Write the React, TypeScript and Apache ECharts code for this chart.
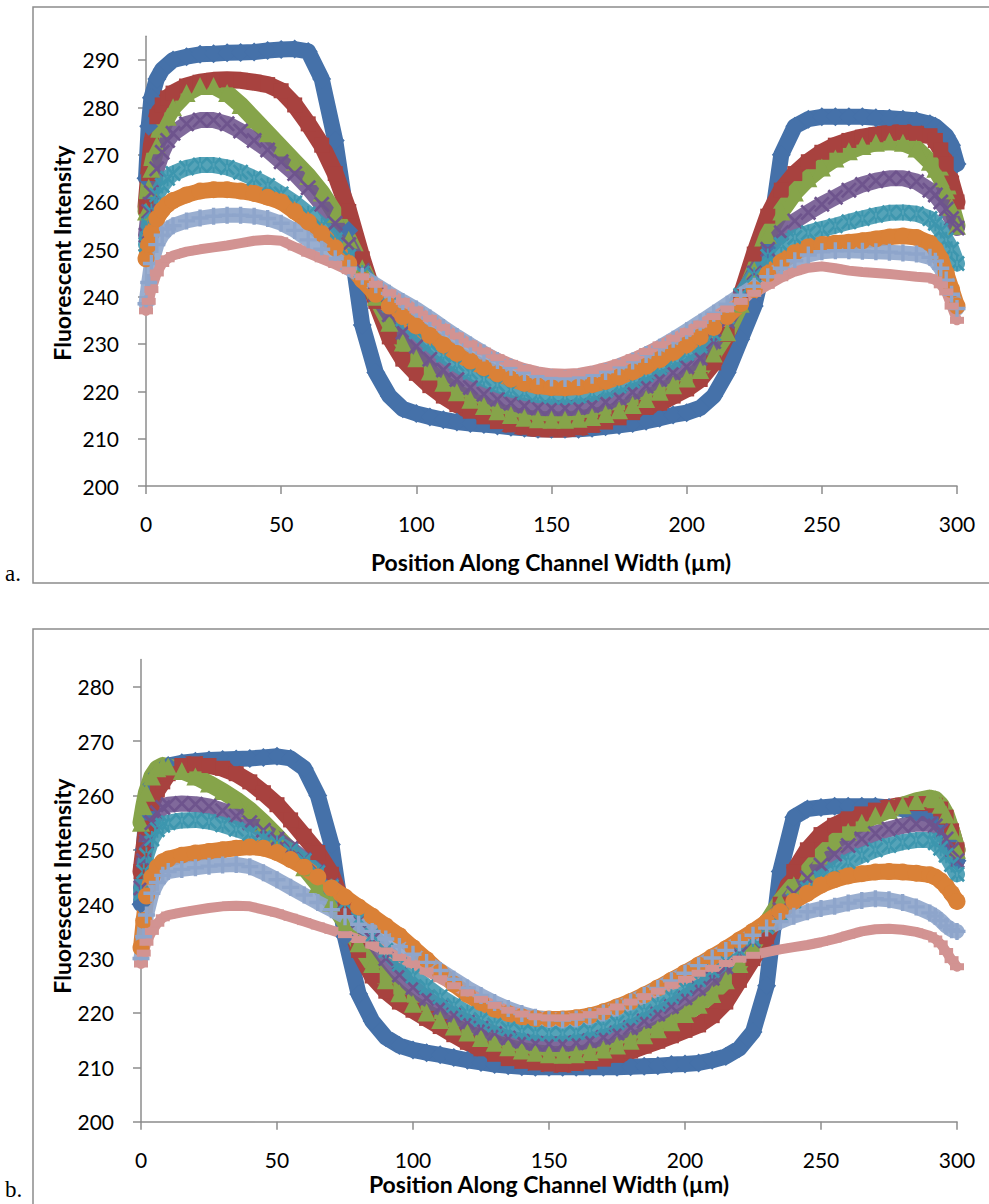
import React, { useEffect, useRef } from "react";
import * as echarts from "echarts";

// Positions along channel width (µm)
const X = [0,1,2,4,6,8,10,15,20,25,30,35,40,45,50,55,60,65,70,75,80,85,90,95,100,105,110,115,120,125,130,135,140,145,150,155,160,165,170,175,180,185,190,195,200,205,210,215,220,225,230,235,240,245,250,255,260,265,270,275,280,285,290,292,294,296,298,300];

const X_TICKS = [0, 50, 100, 150, 200, 250, 300];
const Y_TICKS_A = [200, 210, 220, 230, 240, 250, 260, 270, 280, 290];
const Y_TICKS_B = [200, 210, 220, 230, 240, 250, 260, 270, 280];

// ---- Panel a ----
const A_BLUE = [265,276,282,286,288,289,
290,290.7,291.2,291.3,291.5,291.6,291.7,292,292.2,292.3,
291.8,286,273,254,234,224,219,216.3,215.3,214.6,
214,213.5,213.2,213,212.7,212.4,212.2,212,212,212,
212,212.2,212.5,212.8,213.2,213.7,214.3,215,215.5,216.5,
219,224,231,238,250,270,276,277.5,278,278,
278,278,277.8,277.7,277.5,277.2,276.5,
276,275,274,272,268];
const A_RED = [259,266,272,278,280.5,282,
283,284.5,285.3,285.7,285.8,285.7,285.3,284.8,283.5,280.5,
276.5,272,266,258,248,239,231.5,226.8,223.8,221.2,
219,217.2,215.8,214.6,213.6,212.9,212.4,212.1,212,212,
212.3,212.8,213.5,214.4,215.5,216.6,217.5,219,220.5,222.5,
226,232,240,249,257,262.5,266,268.5,270.5,272,
273,273.7,274.2,274.5,274.7,274.5,274,
273,271,268,264,260];
const A_GREEN = [258,263,267,272,275.5,278,
280,283,284.5,284.5,283,280.5,277.5,274.5,271.5,268.5,
265.5,262,257.5,252,246,240,234.5,230.3,227,224.2,
221.8,219.8,218.2,216.9,215.8,215,214.4,214.1,214,214,
214.2,214.6,215.2,216,217.1,218.4,219.9,221.3,222.7,224.5,
228,232.5,238.5,245.5,253,258,262,265,267.3,269.2,
270.7,271.8,272.5,272.8,272.5,271.3,268.5,
267,265,262.5,259,255];
const A_PURPLE = [253,258,262,267,270.5,273,
274.5,276.5,277.3,277.3,276.5,275,273,271,268.5,266,
263,259.5,255.5,251,245.5,240.5,236.2,232.5,229.5,226.8,
224.5,222.5,220.8,219.4,218.3,217.5,216.9,216.5,216.4,216.4,
216.6,217,217.7,218.6,219.8,221.1,222.5,223.9,225.2,227,
230.5,234.8,239.8,245,250,253.5,256,257.8,259.5,261,
262.5,263.7,264.5,265,265,264.3,262.5,
261.5,260,258.5,256.5,254.5];
const A_CYAN = [251,255,258,261.5,263.5,265,
266,267.2,267.8,267.8,267.3,266.3,265,263.5,261.7,259.8,
257.5,255,252,248.5,245,241.5,238.2,235.3,232.6,230,
227.7,225.7,224,222.6,221.4,220.4,219.7,219.2,218.9,218.8,
219,219.5,220.2,221.1,222.2,223.5,225,226.5,228,229.6,
232.2,235.8,240.3,244.5,248.5,251,252.5,253.5,254.3,255,
255.8,256.5,257.2,257.7,257.8,257.5,256.5,
255.5,254,252,250,247];
const A_ORANGE = [248,251,253.5,256.5,258.3,259.5,
260.3,261.5,262.3,262.6,262.6,262.3,261.8,261,260,258,
255.8,253.3,250.3,247,243.5,240.5,238,235.8,233.8,231.8,
229.8,228,226.4,225,223.7,222.6,221.7,221.1,220.8,220.7,
220.9,221.4,222.1,223,224.1,225.3,226.7,228.2,229.8,231.5,
233.5,235.8,238.5,241.5,244.8,247.3,249.3,250.5,251,251.3,
251.5,251.8,252.2,252.6,252.8,252.5,251.3,
250,248,245,241.5,238];
const A_LIGHTBLUE = [238.5,243,247,251,253,254.3,
255,256,256.6,257,257.2,257.2,257,256.5,255.5,254,
252,250,248,246,244.3,242.5,240.7,239,237.4,235.5,
233.5,231.6,229.8,228.1,226.5,225.1,224,223.2,222.8,222.7,
222.9,223.4,224.2,225.2,226.4,227.8,229.3,231,232.8,234.6,
236.5,238.4,240.3,242.2,244.2,246,247.6,248.8,249.5,249.7,
249.7,249.6,249.5,249.4,249.2,249,248.3,
247.5,246,243.5,240.5,237.5];
const A_PINK = [237,239,241.5,245,247,248,
248.7,249.5,250,250.4,250.8,251.3,251.8,252,251.8,250.5,
249.2,248,246.8,245.5,244.2,242.6,240.8,239,237.2,235.4,
233.5,231.7,230,228.5,227.1,225.9,224.9,224.2,223.8,223.7,
223.9,224.4,225.1,226,227.1,228.4,229.8,231.2,232.6,234.2,
235.8,237.4,239,240.7,242.4,244,245.3,246.1,246.4,246,
245.5,245.2,245,244.8,244.5,244.2,244,
243.5,242.5,241,238,235];

// ---- Panel b ----
const B_BLUE = [240,250,257,262,264,265,
265.5,266,266.3,266.5,266.6,266.7,266.8,267,267.2,266.8,
265,260,251,234,223.5,218.5,215.5,214,213.2,212.7,
212.3,211.8,211.3,210.9,210.5,210.3,210.1,210,210,210,
210,210,210,210,210.1,210.2,210.3,210.5,210.6,210.8,
211.3,212,213.5,216.5,225,246,256,257.5,257.8,258,
258,258,258,257.8,257.5,257,256.5,
255.5,254.5,253,251,248];
const B_RED = [246,250,254,258.5,261,262.5,
264,265.5,265.8,265.5,265,264,262.5,260.5,258.3,255.5,
252.5,249.5,245.5,239,231.5,226.8,224,222,220.5,219,
217.5,216,214.6,213.4,212.4,211.6,211.1,210.8,210.6,210.5,
210.7,211,211.5,212.2,213,213.9,214.8,215.8,216.8,217.8,
219.5,222,226,230,234,240,246,250,252.8,254.5,
255.7,256.6,257.3,257.8,258.2,258.5,258.5,
258.2,257.5,256,253.5,250];
const B_GREEN = [255,258,260.5,263.5,265,265.5,
265.3,264.5,263.5,262.2,260.8,259.2,257.3,255,252.5,249.8,
246.8,243.7,240.3,236.7,232.8,229,226,223.6,221.7,220.1,
218.7,217.5,216.4,215.4,214.5,213.7,213.1,212.7,212.4,212.3,
212.4,212.8,213.3,214,214.9,215.9,217,218.3,219.8,221.5,
223.5,226,229,232.5,236.5,240.5,243.5,246,249,251.5,
253.3,255,256.3,257.3,258.2,259,259.5,
259.3,258.3,256.5,253.5,250];
const B_PURPLE = [243,248,251.5,255,256.8,257.8,
258.3,258.5,258.4,258,257.2,256.2,255,253.6,252,250.2,
248.2,246,243.5,240.5,237,233.5,230,227,224.7,222.7,
221,219.6,218.3,217.2,216.2,215.4,214.8,214.4,214.3,214.3,
214.5,214.9,215.5,216.3,217.3,218.5,219.8,221.2,222.8,224.5,
226.4,228.5,230.8,233.3,236,239,242,244.8,247.2,249.2,
250.8,252,253,253.8,254.4,254.8,254.8,
254.4,253.5,252,250,248];
const B_CYAN = [242,246,249,252,253.7,254.5,
255,255.4,255.5,255.2,254.6,253.8,253,252.2,251.2,249.8,
248,245.8,243.2,240.3,237.3,234.3,231.5,229,226.8,224.8,
223,221.4,220,218.8,217.8,217.1,216.6,216.3,216.2,216.2,
216.4,216.8,217.4,218.2,219.2,220.3,221.6,223,224.5,226.1,
227.8,229.6,231.5,233.6,235.8,238.2,240.6,242.8,244.8,246.4,
247.8,249,250,250.8,251.4,251.8,251.8,
251.3,250.3,249,247.3,245.5];
const B_ORANGE = [232,237,241.5,245,246.8,247.8,
248.3,249,249.4,249.7,250,250.3,250.5,250.3,249.5,248.2,
246.8,245,243,241.3,239.5,237.8,236,234.2,232,229.8,
227.5,225.3,223.4,221.9,220.7,219.9,219.3,219,218.9,218.9,
219.1,219.5,220.2,221.1,222.1,223.3,224.6,226,227.4,228.8,
230.3,231.8,233.4,235,236.7,238.6,240.5,242,243.5,244.5,
245.2,245.6,245.9,246,245.9,245.7,245.4,
245,244.3,243.3,242,240.5];
const B_LIGHTBLUE = [230,234,238,242,244,245.3,
246,246.4,246.7,247,247.2,247.3,246.9,245.8,244.5,243.1,
241.7,240.3,239,237.7,236.3,235,233.6,232.2,230.8,229.3,
227.8,226.2,224.6,223.2,221.9,220.8,219.9,219.2,218.8,218.7,
218.9,219.3,220,220.9,222,223.2,224.5,225.9,227.3,228.7,
230.1,231.5,232.9,234.3,235.6,236.8,237.8,238.6,239.2,239.6,
240.2,240.7,241,240.8,240.3,239.5,238.4,
237.8,237,236,235.3,235];
const B_PINK = [229,231,233,235,236.5,237.5,
238,238.5,238.9,239.3,239.6,239.7,239.6,239,238.4,237.6,
236.8,236,235.2,234.4,233.5,232.5,231.4,230.2,229,227.7,
226.3,225,223.7,222.5,221.4,220.5,219.8,219.3,219.1,219.1,
219.3,219.7,220.3,221.1,222,223,224,225.1,226.2,227.3,
228.2,229.1,229.9,230.6,231.2,231.7,232.1,232.5,233,233.6,
234.3,235,235.4,235.5,235.3,234.9,234.2,
233.6,232.7,231.3,229.8,228.5];

const PLUS = "path://M4,0H6V4H10V6H6V10H4V6H0V4H4Z";
const XMARK = "path://M0,1.2L1.2,0L5,3.8L8.8,0L10,1.2L6.2,5L10,8.8L8.8,10L5,6.2L1.2,10L0,8.8L3.8,5Z";
const ASTER = "path://M0,1.2L1.2,0L5,3.8L8.8,0L10,1.2L6.2,5L10,8.8L8.8,10L5,6.2L1.2,10L0,8.8L3.8,5Z M4.4,0L4.4,10L5.6,10L5.6,0Z";

type Style = { color: string; symbol: string; size: number | number[]; width: number; opacity: number };
const STYLES: Style[] = [
  { color: "#4571a9", symbol: "diamond", size: 19, width: 16, opacity: 1 },
  { color: "#a8423f", symbol: "rect", size: 15, width: 17, opacity: 1 },
  { color: "#86a44a", symbol: "triangle", size: 18, width: 17, opacity: 1 },
  { color: "#6e548d", symbol: XMARK, size: 16, width: 16, opacity: 0.88 },
  { color: "#3d96ae", symbol: ASTER, size: 16, width: 16, opacity: 0.88 },
  { color: "#da8137", symbol: "circle", size: 17, width: 16, opacity: 1 },
  { color: "#8ea5cb", symbol: PLUS, size: 17, width: 15, opacity: 0.9 },
  { color: "#d29392", symbol: "rect", size: [14, 7], width: 10, opacity: 1 },
];

const PANEL_A = [A_BLUE, A_RED, A_GREEN, A_PURPLE, A_CYAN, A_ORANGE, A_LIGHTBLUE, A_PINK];
const PANEL_B = [B_BLUE, B_RED, B_GREEN, B_PURPLE, B_CYAN, B_ORANGE, B_LIGHTBLUE, B_PINK];

const FONT = "Lato";
const AXIS_COLOR = "#8c8c8c";

function makeSeries(vals: number[], s: Style, idx: number, i: number) {
  return {
    type: "line",
    name: `s${idx}-${i}`,
    xAxisIndex: idx,
    yAxisIndex: idx,
    data: X.map((x, k) => [x, vals[k]]),
    symbol: s.symbol,
    symbolSize: s.size,
    showSymbol: true,
    showAllSymbol: true,
    clip: false,
    silent: true,
    lineStyle: { color: s.color, width: s.width, opacity: s.opacity, cap: "round", join: "round" },
    itemStyle: { color: s.color, opacity: 1 },
    z: 2,
  };
}

function xAxis(gridIndex: number) {
  return {
    gridIndex,
    type: "value",
    min: 0,
    max: 300,
    interval: 50,
    axisLine: { show: true, onZero: false, lineStyle: { color: AXIS_COLOR, width: 1.5 } },
    axisTick: { show: true, length: 8, inside: false, customValues: X_TICKS, lineStyle: { color: AXIS_COLOR, width: 1.5 } },
    axisLabel: { color: "#000", fontFamily: FONT, fontSize: 21, margin: 27, customValues: X_TICKS },
    splitLine: { show: false },
  };
}

function yAxis(gridIndex: number, max: number, ticks: number[]) {
  return {
    gridIndex,
    type: "value",
    min: 200,
    max,
    interval: 10,
    axisLine: { show: true, onZero: false, lineStyle: { color: AXIS_COLOR, width: 1.5 } },
    axisTick: { show: true, length: 8, inside: false, customValues: ticks, lineStyle: { color: AXIS_COLOR, width: 1.5 } },
    axisLabel: {
      color: "#000",
      fontFamily: FONT,
      fontSize: 21,
      margin: 27,
      customValues: ticks,
      formatter: (v: number) => (ticks.indexOf(v) >= 0 ? String(v) : ""),
    },
    splitLine: { show: false },
  };
}

function txt(text: string, x: number, y: number, font: string, rotation = 0, align = "center") {
  return {
    type: "text",
    x,
    y,
    rotation,
    silent: true,
    style: { text, font, fill: "#000", align, verticalAlign: "middle", textAlign: align, textVerticalAlign: "middle" },
  };
}

export default function App() {
  const ref = useRef<HTMLDivElement>(null);
  useEffect(() => {
    if (!ref.current) return;
    const chart = echarts.init(ref.current, null, { renderer: "svg" });
    const series: any[] = [];
    PANEL_A.forEach((v, i) => series.push(makeSeries(v, STYLES[i], 0, i)));
    PANEL_B.forEach((v, i) => series.push(makeSeries(v, STYLES[i], 1, i)));
    const option: any = {
      animation: false,
      backgroundColor: "#ffffff",
      grid: [
        { left: 146, right: 32, top: 36.3, bottom: 718 },
        { left: 141, right: 32, top: 659.5, bottom: 82.3 },
      ],
      xAxis: [xAxis(0), xAxis(1)],
      yAxis: [yAxis(0, 295, Y_TICKS_A), yAxis(1, 285, Y_TICKS_B)],
      series,
      graphic: [
        { type: "rect", silent: true, shape: { x: 33, y: 7, width: 1100, height: 576 }, style: { fill: "none", stroke: AXIS_COLOR, lineWidth: 1.5 } },
        { type: "rect", silent: true, shape: { x: 33, y: 629, width: 1100, height: 700 }, style: { fill: "none", stroke: AXIS_COLOR, lineWidth: 1.5 } },
        txt("Fluorescent Intensity", 62, 253, `bold 23px ${FONT}`, Math.PI / 2),
        txt("Fluorescent Intensity", 62, 886, `bold 23px ${FONT}`, Math.PI / 2),
        txt("Position Along Channel Width (µm)", 551, 562, `bold 23px ${FONT}`),
        txt("Position Along Channel Width (µm)", 549, 1184, `bold 23px ${FONT}`),
        txt("a.", 5, 573, "23px 'Liberation Serif'", 0, "left"),
        txt("b.", 5, 1189, "23px 'Liberation Serif'", 0, "left"),
      ],
    };
    chart.setOption(option);
    return () => chart.dispose();
  }, []);
  return (
    <div
      ref={ref}
      style={{ position: "fixed", left: 0, top: 0, width: 989, height: 1204, background: "#fff" }}
    />
  );
}
